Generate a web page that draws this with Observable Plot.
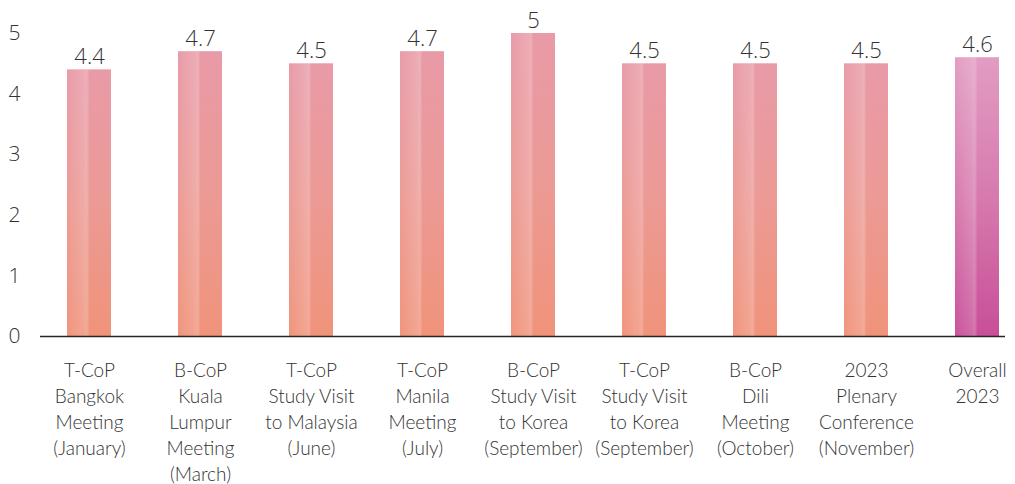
<!DOCTYPE html>
<html><head><meta charset="utf-8">
<script src="https://cdn.jsdelivr.net/npm/d3@7"></script>
<script src="https://cdn.jsdelivr.net/npm/@observablehq/plot@0.6"></script>
<style>
body{margin:0;background:#fff;}
#chart svg{display:block;}
</style>
</head><body><div id="chart"></div>
<script>
const categories = [
  "T-CoP\nBangkok\nMeeting\n(January)",
  "B-CoP\nKuala\nLumpur\nMeeting\n(March)",
  "T-CoP\nStudy Visit\nto Malaysia\n(June)",
  "T-CoP\nManila\nMeeting\n(July)",
  "B-CoP\nStudy Visit\nto Korea\n(September)",
  "T-CoP\nStudy Visit\nto Korea\n(September)",
  "B-CoP\nDili\nMeeting\n(October)",
  "2023\nPlenary\nConference\n(November)",
  "Overall\n2023"
];
const values = [4.4, 4.7, 4.5, 4.7, 5, 4.5, 4.5, 4.5, 4.6];
const valueLabels = ["4.4", "4.7", "4.5", "4.7", "5", "4.5", "4.5", "4.5", "4.6"];
const yTicks = [0, 1, 2, 3, 4, 5];

const data = categories.map((c, i) => ({cat: c, value: values[i], label: valueLabels[i], overall: i === categories.length - 1}));

const step = 111;
const chart = Plot.plot({
  width: 1015,
  height: 484,
  marginLeft: 40,
  marginRight: 10,
  marginTop: 33,
  marginBottom: 148,
  style: {fontFamily: "Lato, 'Open Sans', sans-serif", color: "#333", background: "#fff"},
  x: {domain: categories, range: [33.7, 1032.7], paddingInner: 0.6, paddingOuter: 0.3, axis: null},
  y: {domain: [0, 5], axis: null},
  marks: [
    Plot.barY(data, {x: "cat", y: "value", fill: d => d.overall ? "url(#gOverall)" : "url(#gBar)"}),
    Plot.barY(data, {x: "cat", y: "value", fill: "url(#gHl)", insetRight: step * 0.4 / 2}),
    Plot.ruleY([0], {stroke: "#2b2323", strokeWidth: 1.3}),
    Plot.axisY({ticks: yTicks, tickFormat: d => String(d), label: null, tickSize: 0, tickPadding: 20, fontSize: 21, fill: "#333", fontFamily: "'Open Sans', sans-serif", fontWeight: 300}),
    Plot.text(data, {x: "cat", y: "value", text: "label", lineAnchor: "bottom", dy: -6, fontSize: 22, fill: "#333", fontFamily: "'Open Sans', sans-serif", fontWeight: 300}),
    Plot.text(data, {x: "cat", y: 0, text: "cat", lineAnchor: "top", dy: 22, fontSize: 19, lineHeight: 1.37, fill: "#333", fontWeight: 300})
  ]
});

const defs = d3.select(chart).insert("defs", ":first-child");
function vgrad(id, stops) {
  const g = defs.append("linearGradient").attr("id", id).attr("x1", 0).attr("y1", 0).attr("x2", 0).attr("y2", 1);
  stops.forEach(([o, c]) => g.append("stop").attr("offset", o).attr("stop-color", c));
}
vgrad("gBar", [[0, "#e89aa7"], [0.5, "#ec9a95"], [1, "#f0937a"]]);
vgrad("gOverall", [[0, "#e29cc2"], [0.5, "#d77aae"], [1, "#c84f98"]]);
const hl = defs.append("linearGradient").attr("id", "gHl").attr("x1", 0).attr("y1", 0).attr("x2", 1).attr("y2", 0);
hl.append("stop").attr("offset", 0).attr("stop-color", "#fff").attr("stop-opacity", 0.02);
hl.append("stop").attr("offset", 0.75).attr("stop-color", "#fff").attr("stop-opacity", 0.16);
hl.append("stop").attr("offset", 0.9).attr("stop-color", "#fff").attr("stop-opacity", 0.22);
hl.append("stop").attr("offset", 1).attr("stop-color", "#fff").attr("stop-opacity", 0.1);

document.getElementById("chart").appendChild(chart);
</script>
</body></html>
